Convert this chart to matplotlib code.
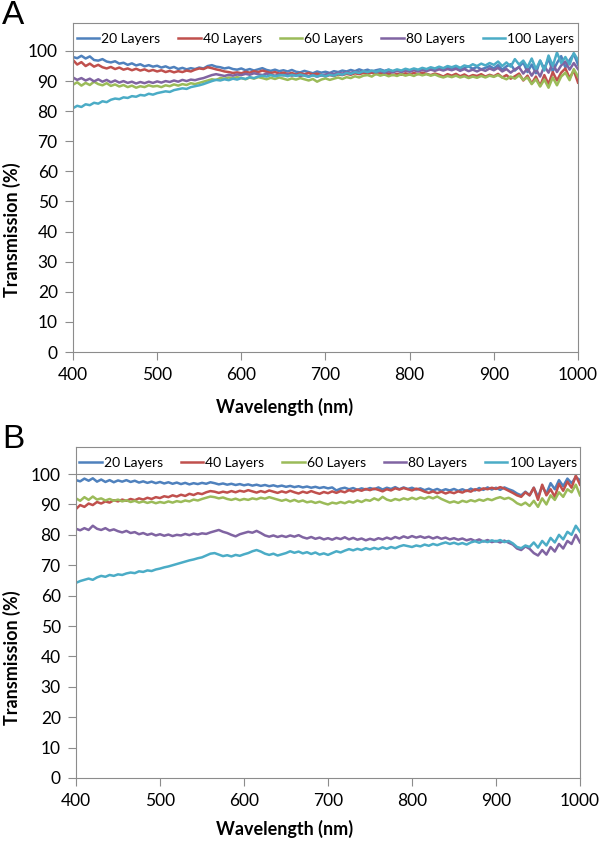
"""Transmission spectra of layered films, panels A and B (20-100 layers)."""

import matplotlib.pyplot as plt
import matplotlib as mpl
import numpy as np

mpl.rcParams.update(
    {
        "font.family": ["Lato", "DejaVu Sans"],
        "font.size": 11,
        "axes.linewidth": 0.8,
    }
)

# --- data at 5 nm steps (400 ... 1000 nm) ---
wavelength = np.arange(400, 1001, 5)

layer_labels = ["20 Layers", "40 Layers", "60 Layers", "80 Layers", "100 Layers"]

a_20 = [
    98.0, 97.6, 98.4, 97.5, 98.2, 97.0, 96.8, 97.3, 96.5, 96.2,
    96.6, 95.8, 96.1, 95.4, 95.9, 95.2, 95.6, 94.9, 95.3, 94.8,
    95.1, 94.5, 94.9, 94.3, 94.7, 94.0, 94.4, 93.9, 94.3, 94.0,
    94.5, 94.2, 95.0, 95.3, 94.8, 94.6, 94.2, 94.5, 94.0, 93.8,
    94.2, 93.6, 94.0, 93.5, 93.9, 94.3, 93.7, 93.4, 93.8, 93.3,
    93.6, 93.2, 93.7, 93.1, 92.9, 93.4, 93.0, 92.6, 93.2, 92.8,
    93.1, 92.7, 93.3, 93.0, 93.5, 93.2, 93.7, 93.3, 93.9, 93.4,
    93.8, 93.2, 93.6, 93.9, 93.4, 93.8, 93.1, 93.6, 93.2, 93.7,
    93.4, 93.9, 93.5, 94.0, 93.6, 94.2, 93.8, 94.4, 93.9, 94.5,
    94.0, 94.6, 93.8, 94.3, 94.9, 94.1, 94.7, 93.9, 94.4, 95.0,
    94.2, 95.3, 93.8, 94.9, 95.6, 93.5, 94.8, 96.2, 93.0, 95.5,
    92.6, 96.8, 94.0, 97.5, 93.2, 96.0, 98.3, 94.5, 97.0, 99.0,
    95.5,
]
a_40 = [
    97.0, 95.5, 96.3, 95.0, 95.8, 94.8, 95.4, 94.6, 94.2, 94.7,
    94.0, 94.5, 93.8, 94.2, 93.6, 94.1, 93.5, 93.9, 93.3, 93.7,
    93.2, 93.6, 93.0, 93.4, 92.9, 93.3, 93.0, 93.5, 93.2, 93.8,
    94.2, 94.0, 94.6, 94.3, 93.9, 93.6, 93.2, 93.0, 92.7, 92.9,
    92.6, 93.1, 92.8, 93.3, 93.0, 93.5, 93.1, 92.7, 93.0, 92.5,
    92.8, 92.4, 92.7, 92.2, 92.6, 92.3, 92.7, 92.2, 92.5, 92.0,
    91.6, 92.0, 91.7, 92.2, 92.0, 92.4, 92.1, 92.6, 92.3, 92.7,
    92.4, 92.8, 92.3, 92.6, 92.1, 92.5, 92.0, 92.4, 92.1, 92.6,
    92.2, 92.7, 92.3, 92.8, 92.4, 92.0, 92.5, 92.1, 91.5, 92.3,
    91.8, 92.4, 91.6, 92.2, 91.4, 92.0, 91.7, 92.3, 91.5, 92.1,
    91.6, 92.4, 91.2, 92.0, 90.8, 91.6, 92.5, 90.2, 91.8, 89.2,
    91.5, 88.4, 92.0, 89.0, 93.0, 90.2, 92.8, 94.2, 91.0, 93.5,
    89.5,
]
a_60 = [
    88.8, 89.6, 88.5, 89.4, 88.7, 89.8, 89.0, 88.6, 89.3, 88.4,
    88.9, 88.2, 88.7, 88.0, 88.5, 87.8, 88.3, 88.0, 88.6, 88.2,
    88.4, 88.0, 88.6, 88.3, 88.9, 88.5, 89.0, 88.7, 89.3, 89.0,
    89.4, 89.8, 90.2, 90.6, 90.4, 91.0, 90.8, 91.2, 90.9, 91.3,
    91.0, 90.6, 91.2, 90.8, 91.3, 91.0, 90.6, 91.1, 90.7, 91.2,
    90.8, 90.4, 90.9, 90.5, 91.0, 90.6, 90.2, 90.7, 89.8, 90.5,
    90.9, 90.4, 90.8, 91.2, 90.7, 91.3, 91.0, 91.6, 91.2, 91.8,
    92.0, 91.5, 92.4, 91.8, 92.2, 91.6, 92.1, 91.7, 92.3, 91.8,
    92.2, 91.7, 92.4, 91.9, 92.3, 91.8, 92.2, 91.6, 91.2, 91.7,
    91.3, 91.8, 91.2, 91.6, 91.0, 91.5, 91.1, 91.7, 91.2, 91.8,
    91.4, 92.0, 91.2, 90.6, 91.5, 90.8, 91.9, 90.4, 91.2, 89.0,
    90.6, 88.2, 90.5, 87.8, 91.2, 88.6, 91.5, 92.8, 90.3, 94.0,
    91.5,
]
a_80 = [
    91.2, 90.4, 91.0, 90.2, 90.8, 89.9, 90.6, 89.8, 90.4, 89.6,
    90.2, 89.5, 90.0, 89.4, 89.8, 89.2, 89.7, 89.3, 89.8, 89.4,
    89.9, 89.5, 90.0, 89.7, 90.2, 89.8, 90.4, 90.0, 90.5, 90.3,
    90.7, 91.0, 91.5, 92.0, 92.3, 92.0, 91.7, 92.1, 91.8, 92.2,
    92.0, 92.4, 92.1, 92.6, 92.3, 92.0, 92.5, 92.1, 91.8, 92.2,
    91.9, 92.3, 91.8, 92.1, 91.7, 92.0, 91.6, 92.0, 91.5, 91.9,
    92.2, 92.6, 92.3, 92.8, 92.5, 93.0, 92.7, 93.2, 92.9, 93.3,
    93.0, 93.4, 92.9, 93.3, 92.8, 93.2, 92.9, 93.4, 93.0, 93.5,
    93.1, 93.6, 93.2, 93.7, 93.3, 93.8, 93.4, 93.9, 93.5, 94.0,
    93.6, 94.1, 93.4, 94.0, 93.3, 93.8, 93.2, 93.9, 93.4, 94.2,
    93.6, 94.4, 93.2, 94.0, 92.8, 93.9, 94.6, 92.5, 94.2, 91.8,
    94.0, 91.5, 95.0, 92.8, 96.0, 93.0, 95.2, 96.5, 93.8, 96.0,
    94.0,
]
a_100 = [
    81.0, 81.8, 81.4, 82.3, 82.0, 82.8, 82.5, 83.3, 83.0, 83.8,
    84.2, 84.0, 84.6, 84.4, 85.0, 84.8, 85.4, 85.2, 85.8, 85.5,
    86.0, 86.3, 86.6, 86.4, 87.0, 87.3, 87.6, 87.4, 88.0, 88.3,
    88.6, 89.0, 89.5, 90.0, 90.4, 90.2, 90.6, 90.3, 90.8, 90.5,
    91.0, 90.7, 91.3, 91.0, 91.5, 91.8, 91.5, 92.0, 91.6, 91.9,
    92.0, 91.6, 92.1, 91.7, 92.2, 91.8, 91.4, 91.9, 91.5, 92.0,
    91.6, 92.1, 91.8, 92.4, 92.1, 92.7, 92.4, 93.0, 92.7, 93.3,
    93.0, 93.5, 93.1, 93.6, 93.2, 93.8, 93.4, 93.9, 93.5, 94.1,
    93.7, 94.2, 93.8, 94.4, 94.0, 94.6, 94.2, 94.8, 94.3, 95.0,
    94.6, 95.1, 94.4, 95.2, 94.8, 95.6, 95.0, 95.8, 95.2, 96.0,
    95.4, 96.5, 95.0, 96.2, 94.8, 97.3, 95.5, 96.8, 94.6, 97.5,
    94.0, 96.8, 93.5, 98.5, 95.0, 99.5, 96.0, 98.0, 95.5, 99.3,
    97.0,
]

b_20 = [
    98.0, 97.6, 98.5, 97.8, 98.6, 97.5, 98.2, 97.4, 98.0, 97.3,
    97.9, 97.5, 98.0, 97.4, 97.8, 97.2, 97.6, 97.1, 97.5, 97.0,
    97.4, 96.9, 97.3, 96.8, 97.2, 96.7, 97.1, 96.6, 97.0, 96.7,
    97.1, 96.8, 97.3, 97.0, 96.6, 96.9, 96.5, 96.8, 96.4, 96.7,
    96.3, 96.6, 96.2, 96.5, 96.1, 96.4, 96.0, 96.3, 95.9, 96.2,
    95.8, 96.1, 95.7, 96.0, 95.6, 95.9, 95.5, 95.8, 95.4, 95.7,
    95.3, 95.6, 94.6, 95.2, 95.5, 95.0, 95.4, 94.8, 95.3, 94.9,
    95.4, 95.0, 95.6, 94.9, 95.5, 95.1, 95.7, 95.0, 95.6, 95.1,
    95.5, 94.9, 95.3, 94.7, 95.2, 94.6, 95.1, 94.5, 95.0, 94.6,
    95.1, 94.5, 95.0, 94.4, 95.2, 94.6, 95.4, 94.8, 95.6, 94.9,
    95.5, 94.8, 95.6, 95.0, 94.5, 93.6, 93.0, 94.2, 93.0, 95.5,
    92.5, 96.0, 93.5, 97.0, 95.0, 98.0, 96.0, 98.5, 97.0, 99.0,
    98.0,
]
b_40 = [
    88.5, 89.8, 89.2, 90.3, 89.8, 90.8, 90.3, 91.0, 90.6, 91.4,
    91.0, 91.6, 91.2, 91.8, 91.4, 92.0, 91.6, 92.2, 91.8, 92.4,
    92.1, 92.7, 92.4, 93.0, 92.6, 93.2, 92.8, 93.5, 93.1, 93.7,
    93.4, 94.0, 94.4, 94.2, 93.8, 94.2, 93.9, 94.4, 94.0, 94.5,
    94.2, 94.7, 94.3, 93.9, 94.4, 94.0, 94.6, 94.2, 93.8, 94.3,
    93.9, 94.5, 94.0, 93.6, 94.2, 93.8, 94.4, 93.9, 93.5, 94.1,
    93.7, 94.3, 93.8, 94.4, 94.0, 94.7, 94.3, 94.9, 94.5, 95.1,
    94.7, 95.2, 94.8, 94.3, 95.0, 94.6, 95.3, 94.9, 95.4, 95.0,
    94.6, 95.2, 94.8, 94.2, 93.8, 94.3, 93.7, 94.2, 93.6, 94.1,
    93.7, 94.3, 93.9, 94.6, 94.2, 95.0, 94.6, 95.3, 95.0, 95.5,
    95.1, 95.7, 95.2, 94.5, 93.8, 93.0, 92.5, 94.0, 93.0, 95.5,
    91.5, 96.5, 93.0, 95.0, 92.5, 96.8, 94.5, 97.5, 95.5, 99.5,
    96.5,
]
b_60 = [
    92.0, 91.2, 92.4, 91.5, 92.6, 91.6, 92.0, 91.3, 91.8, 91.2,
    91.6, 91.0, 91.4, 90.8, 91.2, 90.6, 91.0, 90.5, 90.9, 90.4,
    90.8, 90.5, 91.0, 90.6, 91.1, 90.8, 91.3, 91.0, 91.6, 91.3,
    91.8, 92.2, 92.6, 92.4, 92.0, 92.3, 91.8, 91.5, 91.9, 91.4,
    91.8, 91.5, 92.0, 91.7, 92.2, 91.9, 92.4, 92.0, 91.6, 91.2,
    91.6, 91.0, 91.5, 90.9, 91.3, 90.7, 91.0, 90.5, 90.9, 90.4,
    90.0, 90.6, 90.3, 90.8, 90.4, 91.0, 90.6, 91.3, 90.8, 91.5,
    91.2, 92.0, 91.4, 92.5, 91.6, 91.2, 91.8, 91.4, 92.0, 91.6,
    92.2, 91.7, 92.3, 91.9, 92.5, 92.0, 92.6, 91.8, 91.2, 90.6,
    91.0, 90.5, 91.2, 90.8, 91.4, 91.0, 91.6, 91.2, 91.8, 91.4,
    92.0, 92.4, 91.8, 92.2, 91.5, 90.4, 89.8, 90.6, 89.5, 91.2,
    89.2, 92.0, 90.0, 93.0, 91.5, 94.0, 92.5, 95.0, 94.0, 96.5,
    93.0,
]
b_80 = [
    82.0, 81.5, 82.2, 81.6, 83.0, 82.0, 81.6, 82.2, 81.4, 81.8,
    81.2, 80.8, 81.3, 80.6, 80.9, 80.2, 80.6, 80.0, 80.4, 79.8,
    80.2, 79.7, 80.1, 79.6, 80.0, 79.8, 80.3, 79.9, 80.4, 80.1,
    80.5, 80.3, 80.8, 81.2, 81.6, 81.0, 80.6, 80.0, 79.5, 80.2,
    80.6, 81.0, 80.7, 81.3, 80.6, 79.8, 79.4, 79.8, 79.3, 79.7,
    79.3, 79.8, 79.4, 79.9, 79.2, 78.8, 79.3, 78.7, 79.1, 78.5,
    78.9, 78.4, 79.0, 78.6, 79.2, 78.5, 79.0, 78.4, 78.8, 78.2,
    78.7, 78.3, 78.9, 78.5, 79.1, 78.6, 79.3, 78.8, 79.5, 79.0,
    79.6, 79.1, 79.5, 79.0, 79.4, 78.8, 79.3, 78.7, 79.1, 78.5,
    78.9, 78.4, 78.8, 78.2, 78.6, 78.0, 78.5, 77.8, 78.3, 77.6,
    78.0, 77.5, 78.1, 77.4, 76.8, 75.5, 75.0, 76.2, 75.4, 74.0,
    73.2, 75.0, 73.5, 76.0, 74.5, 77.0, 75.5, 78.0, 77.0, 80.0,
    77.5,
]
b_100 = [
    64.2, 64.8, 65.2, 65.6, 65.2, 66.0, 66.5, 66.2, 66.8, 66.5,
    67.0, 66.8, 67.3, 67.6, 67.4, 68.0, 67.8, 68.3, 68.1, 68.6,
    68.9, 69.3, 69.6, 70.0, 70.4, 70.8, 71.2, 71.6, 71.9, 72.3,
    72.6, 73.2, 73.8, 74.0, 73.5, 73.0, 73.3, 72.9, 73.4, 73.1,
    73.6, 74.0, 74.6, 75.0, 74.5, 73.8, 73.4, 73.8, 73.2, 73.6,
    74.0, 74.6, 74.1, 74.5, 73.9, 74.3, 73.7, 74.2, 73.5, 73.9,
    73.4, 74.0, 74.6, 74.2, 74.8, 75.3, 74.9, 75.4, 75.0, 75.6,
    75.2, 75.7, 75.3, 75.9, 75.4, 76.0, 75.6, 76.2, 76.6, 76.3,
    76.0, 76.5, 76.2, 76.8, 76.4, 77.0, 76.6, 77.1, 77.5, 77.0,
    77.4, 76.9, 77.3, 76.8, 77.5, 77.9, 77.4, 78.0, 77.6, 78.2,
    77.8, 78.3, 77.6, 78.0, 77.2, 76.0, 75.6, 76.5, 76.0, 77.5,
    75.8, 78.0, 76.5, 79.0, 77.5, 80.0, 78.5, 81.0, 80.0, 83.0,
    81.0,
]

panel_a = [a_20, a_40, a_60, a_80, a_100]
panel_b = [b_20, b_40, b_60, b_80, b_100]

# Excel 2007 default series colours
COLORS = ["#4F81BD", "#C0504D", "#9BBB59", "#8064A2", "#4BACC6"]
FRAME = "#8C8C8C"

W, H = 600, 842


def draw_panel(fig, rect, series, ymax):
    ax = fig.add_axes(rect)
    for vals, label, color in zip(series, layer_labels, COLORS):
        ax.plot(wavelength, vals, color=color, lw=1.8, label=label)

    ax.set_xlim(400, 1000)
    ax.set_ylim(0, ymax)
    ax.set_xticks(range(400, 1001, 100))
    ax.set_yticks(range(0, 101, 10))
    ax.axhline(100, color=FRAME, lw=0.8)

    for spine in ax.spines.values():
        spine.set_color(FRAME)
        spine.set_linewidth(0.8)
    ax.tick_params(direction="out", length=6, width=0.8, color=FRAME,
                   labelsize=12.5)
    ax.tick_params(axis="y", pad=5)
    ax.tick_params(axis="x", pad=5)

    # legend sits in the band between y=100 and the top of the frame
    ax.legend(loc="upper center", bbox_to_anchor=(0.5, 1.0), ncol=5,
              frameon=False, fontsize=10, handlelength=1.6,
              handletextpad=0.15, columnspacing=1.3, borderaxespad=0.3)
    return ax


fig = plt.figure(figsize=(W / 100, H / 100), dpi=100, facecolor="white")

# panel A: plot area 73..578 px wide, frame top at 23 px, y=0 at 352 px
draw_panel(fig, [73 / W, 1 - 352 / H, 505 / W, 329 / H], panel_a, 109.3)
# panel B: plot area 76..580 px wide, frame top at 447 px, y=0 at 778 px
draw_panel(fig, [76 / W, 1 - 778 / H, 504 / W, 331 / H], panel_b, 108.9)

for letter, ytop, ylab, xlab in (("A", 0, 230, 407), ("B", 424, 658, 829)):
    fig.text(2 / W, 1 - ytop / H, letter, fontsize=24, va="top", ha="left",
             family="Liberation Sans")
    fig.text(12 / W, 1 - ylab / H, "Transmission (%)", rotation=90,
             fontsize=13, fontweight="bold", va="center", ha="center")
    fig.text(285 / W, 1 - xlab / H, "Wavelength (nm)", fontsize=13,
             fontweight="bold", va="center", ha="center")

fig.savefig("out.png", dpi=100, facecolor="white")
